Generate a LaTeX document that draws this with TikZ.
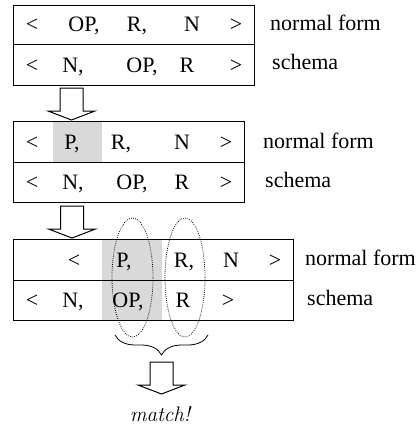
\documentclass[tikz,border=0pt]{standalone}
\usepackage{fontspec}
\setmainfont{LiberationSerif-Regular.ttf}
\usetikzlibrary{decorations.pathreplacing,shapes.geometric}
\begin{document}
\begin{tikzpicture}[x=1pt,y=-1pt,
  row/.style={draw, line width=0.9pt, rectangle, inner sep=0pt, anchor=north west},
  txt/.style={font=\fontsize{22}{26}\selectfont, inner sep=0pt, anchor=base},
  lbl/.style={txt, anchor=base west},
  shade/.style={fill=black!15, draw=none},
  ring/.style={ellipse, draw, line width=0.8pt, dash pattern=on 0.8pt off 1.3pt, inner sep=0pt,
    minimum width=41, minimum height=119},
  downarrow/.pic={\draw[line width=1pt, fill=white, line join=miter]
    (-11.5,0) -- (-11.5,23) -- (-23.5,23) -- (0,32) -- (23.5,23) -- (11.5,23) -- (11.5,0) -- cycle;}]
\useasboundingbox (0,0) rectangle (419,428);

% ---- first pair of rows ----
\node[row, minimum width=241, minimum height=39] (n1) at (13,5) {};
\node[row, minimum width=241, minimum height=41] (s1) at (13,44) {};
\node[txt] (n1a) at (32,32) {<};
\node[txt] (n1b) at (84,32) {OP,};
\node[txt] (n1c) at (137,32) {R,};
\node[txt] (n1d) at (192,32) {N};
\node[txt] (n1e) at (236,32) {>};
\node[txt] (s1a) at (32,72) {<};
\node[txt] (s1b) at (73,72) {N,};
\node[txt] (s1c) at (142,72) {OP,};
\node[txt] (s1d) at (187,72) {R};
\node[txt] (s1e) at (236,72) {>};
\node[lbl] (l1a) at (270,31) {normal form};
\node[lbl] (l1b) at (272,70) {schema};

\coordinate (a1) at (71.5,88);
\pic at (a1) {downarrow};

% ---- second pair of rows ----
\fill[shade] (53,121) rectangle (102,162);
\node[row, minimum width=231, minimum height=41] (n2) at (13,121) {};
\node[row, minimum width=231, minimum height=40] (s2) at (13,162) {};
\node[txt] (n2a) at (32,149) {<};
\node[txt] (n2b) at (72,149) {P,};
\node[txt] (n2c) at (121,149) {R,};
\node[txt] (n2d) at (182,149) {N};
\node[txt] (n2e) at (226,149) {>};
\node[txt] (s2a) at (32,189) {<};
\node[txt] (s2b) at (73,189) {N,};
\node[txt] (s2c) at (132,189) {OP,};
\node[txt] (s2d) at (182,189) {R};
\node[txt] (s2e) at (226,189) {>};
\node[lbl] (l2a) at (263,148) {normal form};
\node[lbl] (l2b) at (265,187) {schema};

\coordinate (a2) at (72,206);
\pic at (a2) {downarrow};

% ---- third pair of rows ----
\fill[shade] (102,239) rectangle (162,320);
\node[row, minimum width=280, minimum height=41] (n3) at (13,239) {};
\node[row, minimum width=280, minimum height=40] (s3) at (13,280) {};
\node[txt] (n3a) at (74,267) {<};
\node[txt] (n3b) at (124,267) {P,};
\node[txt] (n3c) at (184,267) {R,};
\node[txt] (n3d) at (231,267) {N};
\node[txt] (n3e) at (275,267) {>};
\node[txt] (s3a) at (32,307) {<};
\node[txt] (s3b) at (73,307) {N,};
\node[txt] (s3c) at (128,307) {OP,};
\node[txt] (s3d) at (183,307) {R};
\node[txt] (s3e) at (228,307) {>};
\node[lbl] (l3a) at (305,265) {normal form};
\node[lbl] (l3b) at (307,305) {schema};

% dotted rings around the matching columns
\node[ring] (e1) at (132.5,277.5) {};
\node[ring, minimum width=40] (e2) at (185,277.5) {};

% brace under the rings, then the result
\draw[line width=0.8pt, decorate, decoration={brace, amplitude=20, mirror}] (115,335) -- (208,335);
\coordinate (a3) at (161.5,362);
\pic at (a3) {downarrow};
\node[font=\fontfamily{lmr}\fontsize{21}{24}\selectfont\itshape, inner sep=0pt, anchor=base] (m) at (160,421) {match!};
\end{tikzpicture}
\end{document}
